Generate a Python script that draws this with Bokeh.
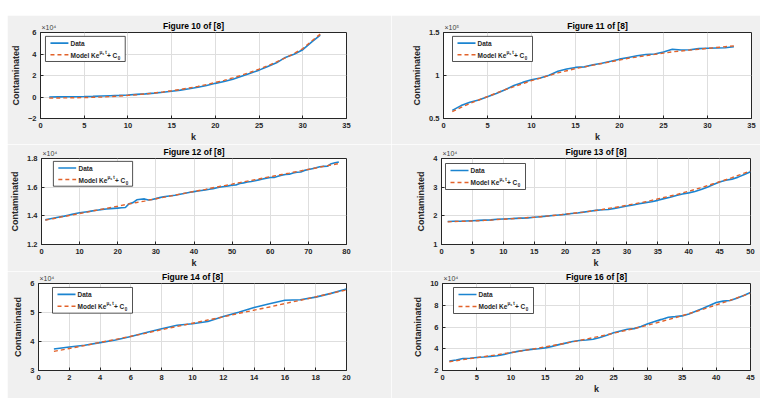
from bokeh.plotting import figure
from bokeh.models import Label, FixedTicker, Range1d, Spacer
from bokeh.layouts import column, row
from bokeh.embed import file_html
from bokeh.resources import INLINE

FONT = "Liberation Sans"
BG = "#f0f0f0"
AX = "#262626"
BLUE = "#1b84d0"
RED = "#e2622a"

# ---------------- data (values in axis units, i.e. x10^4 or x10^5) ----------------
k10 = list(range(1, 33))
fig10_data = [0.00, 0.01, 0.02, 0.03, 0.04, 0.06, 0.09, 0.12, 0.15, 0.19,
              0.24, 0.29, 0.36, 0.44, 0.53, 0.64, 0.76, 0.90, 1.07, 1.27,
              1.45, 1.66, 1.93, 2.20, 2.50, 2.84, 3.18, 3.68, 3.97, 4.40,
              5.10, 5.75]
fig10_model = [-0.10, -0.09, -0.08, -0.07, -0.05, -0.03, 0.00, 0.04, 0.09, 0.15,
               0.21, 0.29, 0.37, 0.47, 0.58, 0.70, 0.84, 0.99, 1.16, 1.35,
               1.55, 1.78, 2.03, 2.30, 2.59, 2.91, 3.26, 3.64, 4.05, 4.50,
               5.20, 5.85]

k11 = list(range(1, 34))
fig11_data = [0.594, 0.650, 0.688, 0.714, 0.752, 0.790, 0.835, 0.883, 0.920, 0.951,
              0.970, 1.004, 1.049, 1.075, 1.094, 1.100, 1.124, 1.143, 1.165, 1.190,
              1.210, 1.230, 1.245, 1.250, 1.274, 1.305, 1.297, 1.300, 1.312, 1.316,
              1.320, 1.323, 1.335]
fig11_model = [0.580, 0.630, 0.675, 0.715, 0.755, 0.795, 0.835, 0.870, 0.905, 0.940,
               0.970, 1.000, 1.030, 1.055, 1.080, 1.100, 1.120, 1.140, 1.160, 1.180,
               1.200, 1.215, 1.230, 1.245, 1.260, 1.275, 1.285, 1.295, 1.305, 1.315,
               1.325, 1.335, 1.345]

k12 = list(range(1, 79))
fig12_data = [1.372, 1.378, 1.383, 1.388, 1.393, 1.398, 1.404, 1.410, 1.416, 1.421,
              1.425, 1.429, 1.433, 1.437, 1.441, 1.445, 1.448, 1.450, 1.452, 1.454,
              1.456, 1.458, 1.485, 1.492, 1.512, 1.516, 1.518, 1.510, 1.514, 1.520,
              1.527, 1.533, 1.537, 1.540, 1.544, 1.549, 1.554, 1.559, 1.564, 1.569,
              1.573, 1.577, 1.581, 1.585, 1.590, 1.596, 1.601, 1.605, 1.609, 1.614,
              1.615, 1.625, 1.630, 1.636, 1.640, 1.645, 1.651, 1.657, 1.663, 1.667,
              1.668, 1.676, 1.684, 1.688, 1.690, 1.699, 1.704, 1.706, 1.717, 1.723,
              1.729, 1.735, 1.742, 1.745, 1.746, 1.764, 1.770, 1.776]
fig12_model = [1.370, 1.375, 1.380, 1.385, 1.391, 1.396, 1.401, 1.406, 1.411, 1.416,
               1.421, 1.426, 1.432, 1.437, 1.442, 1.447, 1.452, 1.457, 1.462, 1.467,
               1.473, 1.478, 1.483, 1.488, 1.493, 1.498, 1.503, 1.509, 1.514, 1.519,
               1.524, 1.529, 1.534, 1.539, 1.544, 1.550, 1.555, 1.560, 1.565, 1.570,
               1.575, 1.580, 1.585, 1.591, 1.596, 1.601, 1.606, 1.611, 1.616, 1.621,
               1.627, 1.632, 1.637, 1.642, 1.647, 1.652, 1.657, 1.663, 1.668, 1.673,
               1.678, 1.683, 1.688, 1.693, 1.698, 1.704, 1.709, 1.714, 1.719, 1.724,
               1.729, 1.734, 1.740, 1.745, 1.750, 1.755, 1.760, 1.765]

k13 = list(range(1, 51))
fig13_data = [1.80, 1.81, 1.81, 1.82, 1.83, 1.84, 1.85, 1.86, 1.88, 1.89,
              1.90, 1.91, 1.92, 1.93, 1.95, 1.97, 1.99, 2.01, 2.03, 2.05,
              2.08, 2.10, 2.13, 2.16, 2.19, 2.21, 2.22, 2.26, 2.30, 2.34,
              2.38, 2.42, 2.46, 2.49, 2.54, 2.60, 2.65, 2.71, 2.76, 2.80,
              2.85, 2.92, 3.00, 3.09, 3.18, 3.24, 3.28, 3.35, 3.44, 3.54]
fig13_model = [1.79, 1.80, 1.81, 1.81, 1.82, 1.83, 1.84, 1.85, 1.87, 1.88,
               1.89, 1.91, 1.92, 1.94, 1.95, 1.97, 1.99, 2.01, 2.03, 2.06,
               2.08, 2.11, 2.13, 2.16, 2.19, 2.22, 2.26, 2.29, 2.33, 2.37,
               2.41, 2.45, 2.49, 2.54, 2.59, 2.64, 2.69, 2.74, 2.80, 2.86,
               2.92, 2.98, 3.05, 3.12, 3.19, 3.26, 3.33, 3.41, 3.49, 3.57]

k14 = list(range(1, 21))
fig14_data = [3.74, 3.81, 3.87, 3.96, 4.05, 4.17, 4.31, 4.44, 4.56, 4.61,
              4.69, 4.86, 5.01, 5.17, 5.30, 5.42, 5.44, 5.53, 5.66, 5.81]
fig14_model = [3.66, 3.76, 3.86, 3.97, 4.07, 4.18, 4.29, 4.41, 4.52, 4.63,
               4.74, 4.85, 4.97, 5.08, 5.19, 5.31, 5.42, 5.54, 5.66, 5.78]

k16 = list(range(1, 46))
fig16_data = [2.88, 2.97, 3.10, 3.13, 3.19, 3.24, 3.30, 3.35, 3.48, 3.64,
              3.76, 3.86, 3.94, 4.00, 4.08, 4.22, 4.38, 4.52, 4.66, 4.76,
              4.80, 4.88, 5.04, 5.25, 5.47, 5.63, 5.79, 5.85, 6.05, 6.30,
              6.51, 6.70, 6.90, 6.95, 7.02, 7.20, 7.45, 7.70, 7.97, 8.25,
              8.38, 8.44, 8.65, 8.90, 9.17]
fig16_model = [2.80, 2.90, 3.00, 3.09, 3.18, 3.27, 3.36, 3.45, 3.55, 3.65,
               3.75, 3.85, 3.95, 4.06, 4.17, 4.28, 4.40, 4.52, 4.64, 4.76,
               4.89, 5.02, 5.15, 5.29, 5.43, 5.57, 5.71, 5.86, 6.01, 6.17,
               6.34, 6.51, 6.68, 6.86, 7.04, 7.23, 7.42, 7.62, 7.82, 8.03,
               8.24, 8.45, 8.67, 8.89, 9.12]

# tick values and labels
x10_ticks = [0, 5, 10, 15, 20, 25, 30, 35]
y10_ticks = [-2, 0, 2, 4, 6]
x11_ticks = [0, 5, 10, 15, 20, 25, 30, 35]
y11_ticks = [0.5, 1.0, 1.5]
y11_labels = ["0.5", "1", "1.5"]
x12_ticks = [0, 10, 20, 30, 40, 50, 60, 70, 80]
y12_ticks = [1.2, 1.4, 1.6, 1.8]
y12_labels = ["1.2", "1.4", "1.6", "1.8"]
x13_ticks = [0, 5, 10, 15, 20, 25, 30, 35, 40, 45, 50]
y13_ticks = [1, 2, 3, 4]
x14_ticks = [0, 2, 4, 6, 8, 10, 12, 14, 16, 18, 20]
y14_ticks = [3, 4, 5, 6]
x16_ticks = [0, 5, 10, 15, 20, 25, 30, 35, 40, 45]
y16_ticks = [2, 4, 6, 8, 10]

titles = ["Figure 10 of [8]", "Figure 11 of [8]", "Figure 12 of [8]",
          "Figure 13 of [8]", "Figure 14 of [8]", "Figure 16 of [8]"]
exponents = ["×10⁴", "×10⁵", "×10⁴", "×10⁴", "×10⁴", "×10⁴"]


def lab(p, x0, y1, px, py, text, size, bold=True, baseline="middle", color=AX):
    p.add_layout(Label(x=x0, y=y1, x_offset=px, y_offset=-py, text=text,
                       text_font=FONT, text_font_size=f"{size}px",
                       text_font_style="bold" if bold else "normal",
                       text_color=color, text_baseline=baseline, text_align="left"))


def make_fig(title, k, data, model, xr, yr, xticks, yticks, ylabels, exp,
             W, H, bl, br, bt, bb, leg, xlabel=True):
    p = figure(width=W, height=H, output_backend="svg", toolbar_location=None,
               x_range=Range1d(*xr), y_range=Range1d(*yr),
               min_border_left=bl, min_border_right=br,
               min_border_top=bt, min_border_bottom=bb)
    p.border_fill_color = BG
    p.background_fill_color = "white"
    p.outline_line_color = AX
    p.outline_line_width = 1
    # exponent label in the side panel (closest to the frame) so it is not clipped
    p.add_layout(Label(x=1, y=2, x_units="screen", y_units="screen", text=exp,
                       text_font=FONT, text_font_size="7px", text_color="#404040",
                       text_baseline="bottom", text_align="left"), "above")
    p.title.text = title
    p.title.align = "center"
    p.title.text_font = FONT
    p.title.text_font_size = "8.5px"
    p.title.text_font_style = "bold"
    p.title.text_color = "black"
    p.title.standoff = -11
    for ax in (p.xaxis[0], p.yaxis[0]):
        ax.axis_line_color = AX
        ax.major_tick_line_color = AX
        ax.major_tick_in = 3
        ax.major_tick_out = 0
        ax.minor_tick_line_color = None
        ax.major_label_text_font = FONT
        ax.major_label_text_font_size = "7.5px"
        ax.major_label_text_font_style = "bold"
        ax.major_label_text_color = AX
        ax.axis_label_text_font = FONT
        ax.axis_label_text_font_size = "9px"
        ax.axis_label_text_font_style = "bold"
        ax.axis_label_text_color = AX
    p.xaxis.ticker = FixedTicker(ticks=xticks)
    p.yaxis.ticker = FixedTicker(ticks=yticks)
    if ylabels is not None:
        p.yaxis.major_label_overrides = {t: s for t, s in zip(yticks, ylabels)}
    p.xaxis.major_label_standoff = 4
    p.yaxis.major_label_standoff = 4
    p.xaxis.axis_label = "k" if xlabel else None
    p.xaxis.axis_label_standoff = 1
    p.yaxis.axis_label = "Contaminated"
    p.yaxis.axis_label_standoff = 4
    p.grid.grid_line_color = "#dedede"
    p.grid.grid_line_width = 1

    p.line(k, data, line_color=BLUE, line_width=1.6)
    p.line(k, model, line_color=RED, line_width=1.4, line_dash="4 3")

    x0, x1 = xr
    y0, y1 = yr
    fw = W - bl - br
    fh = H - bt - bb

    def X(px):
        return x0 + px * (x1 - x0) / fw

    def Y(py):
        return y1 - py * (y1 - y0) / fh

    # legend
    lx, ly = leg
    lw, lh = 80, 26
    p.quad(left=[X(lx)], right=[X(lx + lw)], top=[Y(ly)], bottom=[Y(ly + lh)],
           fill_color="white", line_color=AX, line_width=0.8)
    p.line([X(lx + 5), X(lx + 23)], [Y(ly + 7), Y(ly + 7)], line_color=BLUE, line_width=1.6)
    p.line([X(lx + 5), X(lx + 23)], [Y(ly + 19), Y(ly + 19)], line_color=RED,
           line_width=1.4, line_dash="4 3")
    tx = lx + 25
    lab(p, x0, y1, tx, ly + 7, "Data", 6.5)
    lab(p, x0, y1, tx, ly + 19, "Model Ke", 6.5)
    sx = tx + 29
    lab(p, x0, y1, sx, ly + 16, "μ", 4.5)
    lab(p, x0, y1, sx + 2.7, ly + 17.5, "s", 3.5)
    lab(p, x0, y1, sx + 5.8, ly + 16, "t", 4.5)
    lab(p, x0, y1, sx + 7.5, ly + 19, " + C", 6.5)
    lab(p, x0, y1, sx + 18.3, ly + 21, "0", 4.5)
    return p


LW, RW = 384, 369
f10 = make_fig(titles[0], k10, fig10_data, fig10_model, (0, 35), (-2, 6), x10_ticks, y10_ticks,
               None, exponents[0], LW, 129, 32, 45, 17, 23, (5, 4))
f11 = make_fig(titles[1], k11, fig11_data, fig11_model, (0, 35), (0.5, 1.5), x11_ticks, y11_ticks,
               y11_labels, exponents[1], RW, 129, 52, 9, 17, 23, (9, 4))
f12 = make_fig(titles[2], k12, fig12_data, fig12_model, (0, 80), (1.2, 1.8), x12_ticks, y12_ticks,
               y12_labels, exponents[2], LW, 127, 31, 45, 13, 24, (12, 3))
f13 = make_fig(titles[3], k13, fig13_data, fig13_model, (0, 50), (1, 4), x13_ticks, y13_ticks,
               None, exponents[3], RW, 127, 50, 10, 14, 27, (4, 5))
f14 = make_fig(titles[4], k14, fig14_data, fig14_model, (0, 20), (3, 6), x14_ticks, y14_ticks,
               None, exponents[4], LW, 127, 31, 45, 12, 27, (14, 4), xlabel=False)
f16 = make_fig(titles[5], k16, fig16_data, fig16_model, (0, 45), (2, 10), x16_ticks, y16_ticks,
               None, exponents[5], RW, 127, 51, 10, 12, 28, (11, 4))

grid = column(row(f10, f11), row(f12, f13), row(f14, f16))
layout = column(Spacer(width=LW + RW + 7, height=15),
                row(Spacer(width=7, height=381), grid))

open("out.html", "w").write(file_html(layout, INLINE))
